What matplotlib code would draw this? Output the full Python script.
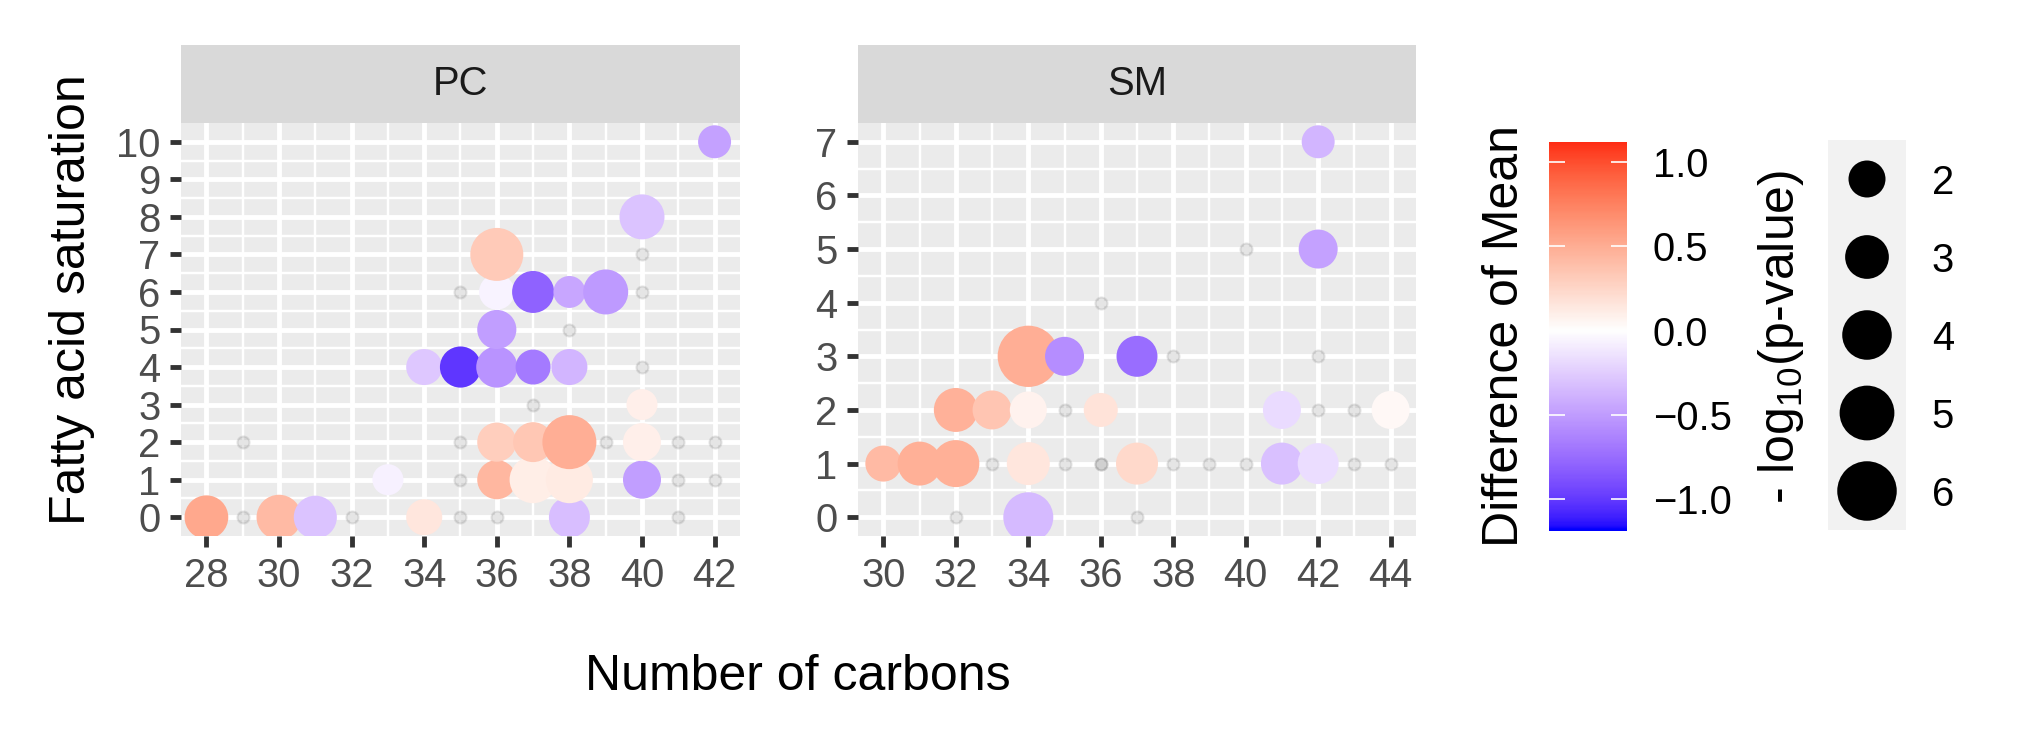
import numpy as np
import matplotlib
matplotlib.use("Agg")
import matplotlib.pyplot as plt
from matplotlib.colors import ListedColormap, Normalize

plt.rcParams['font.family'] = ['Liberation Sans', 'DejaVu Sans']
plt.rcParams['mathtext.fontset'] = 'custom'
plt.rcParams['mathtext.rm'] = 'Liberation Sans'
plt.rcParams['mathtext.default'] = 'regular'

# ---- data: significant lipids (coloured) ----
pc_carbons = [28, 30, 31, 33, 34, 34, 35, 36, 36, 36, 36, 36, 36, 37, 37, 37, 37,
              38, 38, 38, 38, 38, 39, 40, 40, 40, 40, 42]
pc_satur = [0, 0, 0, 1, 0, 4, 4, 1, 2, 4, 5, 6, 7, 1, 2, 4, 6,
            0, 1, 2, 4, 6, 6, 1, 2, 3, 8, 10]
pc_diff = [0.53, 0.42, -0.30, -0.07, 0.15, -0.28, -1.02, 0.44, 0.30, -0.55, -0.50, -0.06, 0.33,
           0.11, 0.35, -0.68, -0.80, -0.33, 0.13, 0.50, -0.38, -0.45, -0.52, -0.50, 0.10, 0.10,
           -0.30, -0.48]
pc_logp = [3.0, 3.2, 2.9, 1.25, 1.87, 1.87, 2.6, 2.3, 2.3, 2.6, 2.3, 1.8, 4.65,
           3.55, 2.42, 1.73, 2.73, 2.57, 3.55, 4.85, 1.87, 1.36, 3.21, 2.14, 2.14, 1.25,
           3.21, 1.48]

sm_carbons = [30, 31, 32, 32, 33, 34, 34, 34, 34, 35, 36, 37, 37, 41, 41, 42, 42, 42, 44]
sm_satur = [1, 1, 1, 2, 2, 0, 1, 2, 3, 3, 2, 1, 3, 1, 2, 1, 5, 7, 2]
sm_diff = [0.42, 0.49, 0.49, 0.48, 0.36, -0.35, 0.15, 0.08, 0.50, -0.58, 0.17, 0.24, -0.75,
           -0.32, -0.18, -0.17, -0.48, -0.38, 0.04]
sm_logp = [1.87, 3.04, 3.55, 3.04, 2.28, 4.08, 2.88, 2.0, 6.4, 2.28, 1.61, 2.73, 2.57,
           2.73, 2.14, 2.57, 2.28, 1.48, 2.14]

# ---- data: non-significant lipids (grey) ----
pc_ns_carbons = [29, 29, 32, 35, 35, 35, 35, 36, 37, 38, 39, 40, 40, 40, 41, 41, 41, 42, 42]
pc_ns_satur = [0, 2, 0, 0, 1, 2, 6, 0, 3, 5, 2, 4, 6, 7, 0, 1, 2, 1, 2]
sm_ns_carbons = [32, 33, 35, 35, 36, 36, 36, 37, 38, 38, 39, 40, 40, 42, 42, 43, 43, 44]
sm_ns_satur = [0, 1, 1, 2, 1, 1, 4, 0, 1, 3, 1, 1, 5, 2, 3, 1, 2, 1]

diff_limits = (-1.19, 1.12)
size_breaks = [2, 3, 4, 5, 6]
diff_breaks = [-1.0, -0.5, 0.0, 0.5, 1.0]

W, H, DPI = 2022, 738, 300

# ---- colour scale: blue - white - red, interpolated in CIELAB like ggplot ----
M = np.array([[0.4124, 0.3576, 0.1805], [0.2126, 0.7152, 0.0722], [0.0193, 0.1192, 0.9505]])
WHITE = np.array([0.95047, 1.0, 1.08883])


def to_lab(rgb):
    c = np.asarray(rgb, float)
    lin = np.where(c <= 0.04045, c / 12.92, ((c + 0.055) / 1.055) ** 2.4)
    xyz = M @ lin / WHITE
    f = np.where(xyz > 0.008856, np.cbrt(xyz), 7.787 * xyz + 16 / 116)
    return np.array([116 * f[1] - 16, 500 * (f[0] - f[1]), 200 * (f[1] - f[2])])


def from_lab(lab):
    fy = (lab[0] + 16) / 116
    f = np.array([fy + lab[1] / 500, fy, fy - lab[2] / 200])
    xyz = np.where(f ** 3 > 0.008856, f ** 3, (f - 16 / 116) / 7.787) * WHITE
    lin = np.clip(np.linalg.solve(M, xyz), 0, 1)
    c = np.where(lin <= 0.0031308, 12.92 * lin, 1.055 * lin ** (1 / 2.4) - 0.055)
    return np.clip(c, 0, 1)


lab_lo, lab_mid, lab_hi = to_lab([0, 0, 1]), to_lab([1, 1, 1]), to_lab([1, 0, 0])
cols = []
for t in np.linspace(0, 1, 256):
    if t < 0.5:
        u = t / 0.5
        cols.append(from_lab(lab_lo + (lab_mid - lab_lo) * u))
    else:
        u = (t - 0.5) / 0.5
        cols.append(from_lab(lab_mid + (lab_hi - lab_mid) * u))
cmap = ListedColormap(cols)
half = max(abs(diff_limits[0]), abs(diff_limits[1]))
norm = Normalize(-half, half)


def marker_area(logp):
    # diameter in pixels grows with sqrt of -log10(p)
    d_px = np.sqrt(543 * np.asarray(logp, float) + 283)
    return (d_px * 72 / DPI) ** 2


fig = plt.figure(figsize=(W / DPI, H / DPI), dpi=DPI)


def px_axes(x0, y0, x1, y1):
    return fig.add_axes([x0 / W, 1 - y1 / H, (x1 - x0) / W, (y1 - y0) / H])


def panel(x0, x1, name, xc, ys, diff, logp, nsx, nsy, xbreaks, ymax):
    ax = px_axes(x0, 123, x1, 536)
    ax.set_facecolor('#EBEBEB')
    for s in ax.spines.values():
        s.set_visible(False)
    xlo, xhi = xbreaks[0], xbreaks[-1]
    ex = (xhi - xlo) * 0.05
    ax.set_xlim(xlo - ex, xhi + ex)
    ax.set_ylim(-ymax * 0.05, ymax * 1.05)
    ax.set_xticks(xbreaks)
    ax.set_xticks(np.arange(xlo + 1, xhi, 2), minor=True)
    ax.set_yticks(range(0, ymax + 1))
    ax.set_yticks(np.arange(0.5, ymax, 1), minor=True)
    ax.grid(True, which='major', color='white', lw=1.16)
    ax.grid(True, which='minor', color='white', lw=0.58)
    ax.set_axisbelow(True)
    ax.tick_params(which='major', length=2.75, width=1.16, color='#333333',
                   labelsize=9.6, labelcolor='#4D4D4D', pad=2.2)
    ax.tick_params(which='minor', length=0)

    ax.scatter(nsx, nsy, s=8.3, facecolor=(0.5, 0.5, 0.5, 0.2),
               edgecolor=(0.5, 0.5, 0.5, 0.2), linewidths=0.5, zorder=2)
    ax.scatter(xc, ys, s=marker_area(logp), c=diff, cmap=cmap, norm=norm,
               linewidths=0, zorder=3)

    strip = px_axes(x0, 45, x1, 123)
    strip.set_facecolor('#D9D9D9')
    strip.set_xticks([])
    strip.set_yticks([])
    for s in strip.spines.values():
        s.set_visible(False)
    strip.text(0.5, 0.5, name, ha='center', va='center', fontsize=9.6,
               color='#1A1A1A', transform=strip.transAxes)
    return ax


panel(181, 740, 'PC', pc_carbons, pc_satur, pc_diff, pc_logp,
      pc_ns_carbons, pc_ns_satur, list(range(28, 43, 2)), 10)
panel(858, 1416, 'SM', sm_carbons, sm_satur, sm_diff, sm_logp,
      sm_ns_carbons, sm_ns_satur, list(range(30, 45, 2)), 7)

fig.text(798 / W, 1 - 677 / H, 'Number of carbons', ha='center', va='center', fontsize=12)
fig.text(72 / W, 1 - 300 / H, 'Fatty acid saturation', ha='center', va='center',
         rotation=90, fontsize=12)

# ---- colour bar ----
cax = px_axes(1549, 142, 1627, 531)
grad = np.linspace(diff_limits[0], diff_limits[1], 300).reshape(-1, 1)
cax.imshow(grad, cmap=cmap, norm=norm, aspect='auto', origin='lower',
           extent=[0, 1, diff_limits[0], diff_limits[1]])
cax.set_xlim(0, 1)
cax.set_ylim(*diff_limits)
cax.set_xticks([])
cax.set_yticks(diff_breaks)
cax.set_yticklabels([f'{b:.1f}'.replace('-', '\u2212') for b in diff_breaks])
cax.tick_params(axis='y', left=True, right=True, labelleft=False, labelright=True,
                direction='in', color='white', length=3.8, width=0.4,
                labelsize=9.6, pad=6.2)
for s in cax.spines.values():
    s.set_visible(False)
fig.text(1505 / W, 1 - 336 / H, 'Difference of Mean', ha='center', va='center',
         rotation=90, fontsize=12)

# ---- size legend ----
sax = px_axes(1828, 140, 1906, 530)
sax.set_facecolor('#F2F2F2')
sax.set_xlim(-1, 1)
sax.set_ylim(6.5, 1.5)
sax.scatter([0] * len(size_breaks), size_breaks, s=marker_area(size_breaks),
            color='black', linewidths=0)
sax.set_xticks([])
sax.set_yticks(size_breaks)
sax.yaxis.tick_right()
sax.tick_params(axis='y', length=0, labelsize=9.6, pad=6.2)
for s in sax.spines.values():
    s.set_visible(False)
fig.text(1781 / W, 1 - 337 / H, '- log$_{10}$(p-value)', ha='center', va='center',
         rotation=90, fontsize=12)

fig.savefig('out.png', dpi=DPI)
